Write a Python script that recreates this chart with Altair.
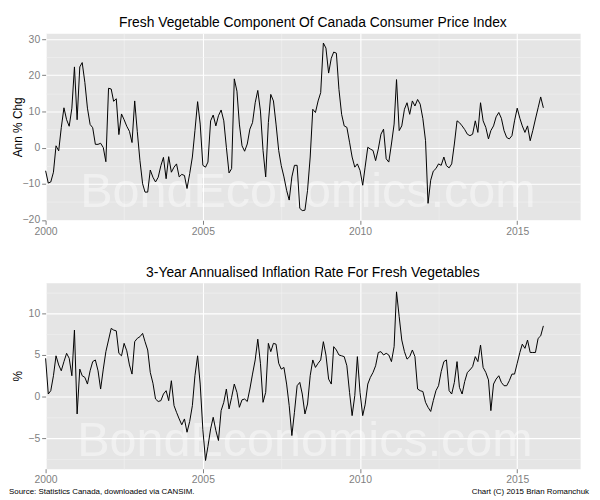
import pandas as pd
import altair as alt

# Monthly readings, Jan 2000 - Nov 2015
cpi_chg = [
    -6.4, -9.8, -9.5, -6.8, 0.5, -0.9, 5.5, 11, 7.7, 5.9, 10.9, 22.3,
    7.7, 22.3, 23.5, 18, 10.9, 6.4, 5.5, 0.9, 0.9, 1.2, 0, -3.9,
    16.4, 16.2, 12.8, 13.5, 3.6, 9.3, 7.7, 5.9, 4.5, 1.4, 12.9, 4.5,
    -3.6, -10, -12.3, -12.3, -6.2, -8.2, -9.5, -8.2, -5, -2.7, -8.6, -2.5,
    -6.8, -5.4, -4.5, -8.1, -7.4, -7.7, -11.3, -7.2, -2.6, 4.7, 12.7, 6.5,
    -4.9, -5.4, -4, 7.4, 9, 6, 8.8, 10.4, 7.4, 0.1, -7, -5.8,
    19, 15.6, 6.5, 0.5, -1, 1, 5.1, 6.9, 12.4, 15.8, 10.1, -0.8,
    -8.1, 6.9, 14.7, 12.9, 6.5, -0.8, -5, -8.1, -11.8, -14.5, -8.1, -4.9,
    -4.9, -16.8, -17.4, -17.3, -11.8, -2.6, 10.6, 9.7, 12.9, 15.2, 28.9, 27.5,
    20.6, 24.7, 26.4, 26.1, 16.1, 9.2, 6, 5.6, 1.5, -2.6, -5.4, -4.5,
    -6.3, -10.4, -5.4, 0.1, -0.4, -0.8, -3.6, -0.4, 3.7, 5.1, -3.1, -4,
    1, 6.5, 18.8, 4.7, 6, 10.6, 12.4, 9.2, 12.9, 11.5, 13.3, 12,
    8, 1.9, -15.4, -9, -6.5, -5.8, -4.5, -4.9, -2.6, -5, -5.6, -4.5,
    1, 7.4, 6.9, 6, 5, 3.7, 3.3, 3.7, 7.4, 4.2, 12.4, 7.4,
    5.6, 2.4, 4.7, 6, 8.5, 9.7, 8.1, 4.7, 2.8, 2.4, 3.3, 7.4,
    10.9, 8.1, 6, 4.2, 6, 1.9, 4.7, 7.9, 11, 14, 11,
]

ann_3y = [
    4.6, 0.3, 0.7, 2.5, 4.9, 3.8, 3.1, 4.2, 5.2, 4.6, 2.5, 8,
    -2.1, 3.3, 2.5, 2.3, 1.5, 3.1, 4.2, 4.4, 3.1, 0.9, 3.3, 5.4,
    6.8, 8.2, 8, 7.9, 5.2, 4.9, 6.4, 5.5, 3.8, 2.7, 6.6, 7,
    7.2, 7.6, 6.6, 5.6, 2.9, 1.6, -0.3, -0.6, -0.5, 0.3, 0.7, -0.5,
    1.9, -1.1, -1.9, -2.7, -3.4, -2.7, -4.3, -3, -1.1, 2.5, 4.9, 1.5,
    -4, -7.7, -6, -3.9, -2.5, -4.1, -5.3, -1.7, -0.7, 0.9, -1.5, -0.1,
    1.5, 0.5, -1.3, -0.4, -0.3, -0.6, 0.9, 2.7, 4.4, 6.9, 4, -0.7,
    0.5, 6.4, 5.4, 6.4, 6.3, 4, 3.3, 3.5, 1.5, -1.1, -4.7, -1.9,
    1.3, 1.7, 0.3, -2.1, -0.9, 2.5, 4.4, 3.5, 4, 4.4, 6.6, 5,
    2.1, 1.5, 6, 5.6, 5, 4.9, 4.8, 3.7, 0.5, -2.3, 0.1, 4.8,
    0.5, -2.3, -1, 1.5, 2.3, 2.9, 3.7, 5.3, 5.4, 5, 5.2, 5,
    4.2, 6, 12.6, 9.6, 6.8, 5.4, 4.5, 4.8, 5.6, 4.8, 0.9, 0.7,
    0.6, -0.7, -1.3, -1.8, -0.5, 0.7, 1.3, 3, 4.2, 4.4, 0.7, 0.3,
    1.7, 4.2, 1.1, 0.3, 1.8, 2.9, 3.2, 3.6, 4.8, 4.2, 6.2, 3.5,
    2.9, 2, -1.7, 1.5, 2.1, 2.5, 1.7, 1.3, 1.3, 1.9, 2.7, 2.7,
    4, 5.3, 6.3, 5.8, 6.8, 5.3, 5.3, 5.3, 7, 7.3, 8.5,
]

top_ticks = [-20, -15, -10, -5, 0, 5, 10, 15, 20, 25, 30]
bottom_ticks = [-7.5, -5, -2.5, 0, 2.5, 5, 7.5, 10, 12.5]
year_ticks = [alt.DateTime(year=2000, month=1, date=1),
              alt.DateTime(year=2002, month=7, date=1),
              alt.DateTime(year=2005, month=1, date=1),
              alt.DateTime(year=2007, month=7, date=1),
              alt.DateTime(year=2010, month=1, date=1),
              alt.DateTime(year=2012, month=7, date=1),
              alt.DateTime(year=2015, month=1, date=1)]

dates = pd.date_range("2000-01-01", periods=len(cpi_chg), freq="MS")
df = pd.DataFrame({"date": dates, "chg": cpi_chg, "ann": ann_3y})

FONT = "Liberation Sans"
W, H_TOP, H_BOT = 540, 189, 188


def x_enc():
    return alt.X("date:T", title=None,
                 scale=alt.Scale(domain=[alt.DateTime(year=2000, month=1, date=1),
                                         alt.DateTime(year=2017, month=1, date=1)]),
                 axis=alt.Axis(values=year_ticks, format="%Y", labelFlush=False,
                               labelExpr="month(datum.value) == 0 ? datum.label : ''",
                               gridColor={"condition": {"test": "month(datum.value) != 0", "value": "#f2f2f2"},
                                          "value": "#ffffff"},
                               gridWidth={"condition": {"test": "month(datum.value) != 0", "value": 0.6},
                                          "value": 1.1},
                               tickColor={"condition": {"test": "month(datum.value) != 0", "value": "transparent"},
                                          "value": "#7f7f7f"}))


def y_axis(ticks, major, title):
    test = f"datum.value % {major} != 0"
    return alt.Axis(values=ticks, title=title,
                    labelExpr=f"datum.value % {major} == 0 ? datum.label : ''",
                    gridColor={"condition": {"test": test, "value": "#f2f2f2"}, "value": "#ffffff"},
                    gridWidth={"condition": {"test": test, "value": 0.6}, "value": 1.1},
                    tickColor={"condition": {"test": test, "value": "transparent"}, "value": "#7f7f7f"},
                    titleAngle=-90, titleBaseline="middle", titleX=-28)


def watermark(px, py):
    return alt.Chart(pd.DataFrame({"t": ["BondEconomics.com"]})).mark_text(
        font=FONT, fontSize=49, color="#ffffff", opacity=0.45,
        align="center", baseline="alphabetic"
    ).encode(text="t:N", x=alt.value(px), y=alt.value(py))


top_line = alt.Chart(df).mark_line(color="black", strokeWidth=1).encode(
    x=x_enc(),
    y=alt.Y("chg:Q", scale=alt.Scale(domain=[-20.1, 31.6], nice=False, zero=False),
            axis=y_axis(top_ticks, 10, "Ann % Chg")),
)

top = alt.layer(watermark(265, 176), top_line).properties(
    width=W, height=H_TOP,
    title=alt.TitleParams("Fresh Vegetable Component Of Canada Consumer Price Index",
                          font=FONT, fontSize=14, fontWeight="normal", color="black",
                          anchor="middle", frame="group", offset=3),
)

bot_line = alt.Chart(df).mark_line(color="black", strokeWidth=1).encode(
    x=x_enc(),
    y=alt.Y("ann:Q", scale=alt.Scale(domain=[-8.7, 13.7], nice=False, zero=False),
            axis=y_axis(bottom_ticks, 5, "%")),
)

notes = pd.DataFrame({"t": ["Source: Statistics Canada, downloaded via CANSIM.",
                            "Chart (C) 2015 Brian Romanchuk"]})
src = alt.Chart(notes.iloc[[0]]).mark_text(
    font=FONT, fontSize=8, color="black", align="left", baseline="alphabetic"
).encode(text="t:N", x=alt.value(-37), y=alt.value(213))
cred = alt.Chart(notes.iloc[[1]]).mark_text(
    font=FONT, fontSize=8, color="black", align="right", baseline="alphabetic"
).encode(text="t:N", x=alt.value(549), y=alt.value(213))

bottom = alt.layer(watermark(262, 175), bot_line, src, cred).properties(
    width=W, height=H_BOT,
    title=alt.TitleParams("3-Year Annualised Inflation Rate For Fresh Vegetables",
                          font=FONT, fontSize=14, fontWeight="normal", color="black",
                          anchor="middle", frame="group", offset=3),
)

chart = alt.vconcat(top, bottom, spacing=28).properties(
    padding={"left": 0, "top": 5, "right": 2, "bottom": 0}
).configure_view(
    fill="#e5e5e5", stroke="transparent"
).configure_axis(
    domain=False, labelFont=FONT, labelFontSize=10.5, labelColor="#7f7f7f",
    tickSize=4, labelPadding=2, titleFont=FONT, titleFontSize=12,
    titleFontWeight="normal", titleColor="black",
)

chart.save("out.html", embed_options={"renderer": "svg", "actions": False})
